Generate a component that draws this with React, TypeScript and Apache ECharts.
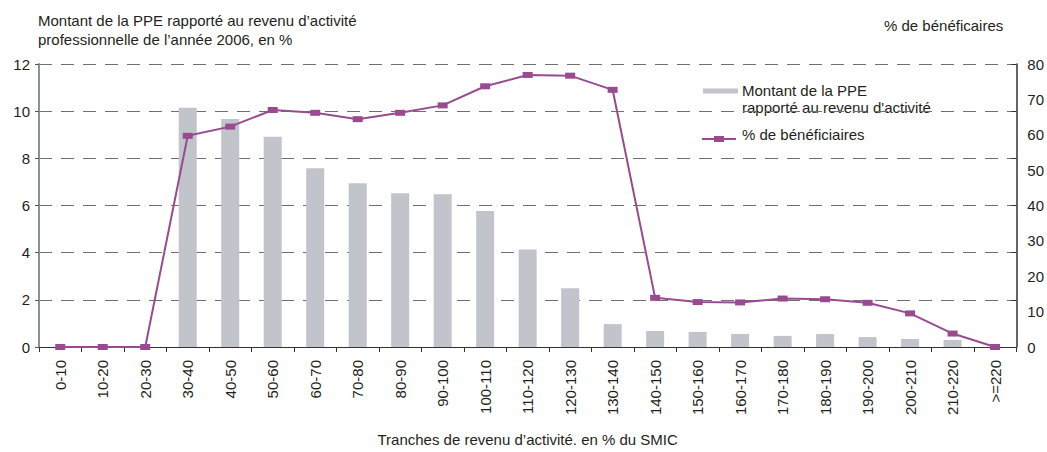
import React, { useEffect, useRef } from "react";
import * as echarts from "echarts";

const categories = [
  "0-10", "10-20", "20-30", "30-40", "40-50", "50-60", "60-70", "70-80", "80-90", "90-100",
  "100-110", "110-120", "120-130", "130-140", "140-150", "150-160", "160-170", "170-180",
  "180-190", "190-200", "200-210", "210-220", ">=220",
];

// Montant de la PPE rapporté au revenu d'activité (%), left axis
const ppeMontant = [
  0, 0, 0, 10.15, 9.67, 8.92, 7.58, 6.94, 6.52, 6.48,
  5.77, 4.13, 2.49, 0.97, 0.68, 0.64, 0.55, 0.47,
  0.55, 0.42, 0.34, 0.3, 0,
];

// % de bénéficiaires, right axis
const beneficiaires = [
  0, 0, 0, 59.7, 62.3, 67.0, 66.2, 64.4, 66.2, 68.3,
  73.7, 76.9, 76.7, 72.7, 13.9, 12.7, 12.6, 13.7,
  13.5, 12.5, 9.5, 3.8, 0,
];

const leftTicks = { min: 0, max: 12, interval: 2 };
const rightTicks = { min: 0, max: 80, interval: 10 };

const FONT = "'Liberation Sans', Arial, Helvetica, sans-serif";
const TEXT = "#231f20";
const BAR = "#c2c4cb";
const LINE = "#984b8e";

export default function App() {
  const ref = useRef<HTMLDivElement>(null);

  useEffect(() => {
    if (!ref.current) return;
    const chart = echarts.init(ref.current, undefined, { renderer: "svg" });
    chart.setOption({
      animation: false,
      backgroundColor: "#ffffff",
      textStyle: { fontFamily: FONT, color: TEXT },
      title: [
        {
          text: "Montant de la PPE rapporté au revenu d’activité\nprofessionnelle de l’année 2006, en %",
          left: 33,
          top: 6,
          textStyle: { fontSize: 15, fontWeight: "normal", color: TEXT, lineHeight: 19, fontFamily: FONT },
        },
        {
          text: "% de bénéficaires",
          left: 879,
          top: 13,
          textStyle: { fontSize: 15, fontWeight: "normal", color: TEXT, fontFamily: FONT },
        },
      ],
      grid: { left: 39, right: 24, top: 64, bottom: 103, containLabel: false },
      xAxis: {
        type: "category",
        data: categories,
        boundaryGap: true,
        name: "Tranches de revenu d’activité. en % du SMIC",
        nameLocation: "middle",
        nameGap: 85,
        nameTextStyle: { fontSize: 15, color: TEXT, fontFamily: FONT },
        axisLine: { show: true, lineStyle: { color: "#333333", width: 1 } },
        axisTick: { show: true, length: 5, lineStyle: { color: "#333333" } },
        axisLabel: { rotate: 90, interval: 0, margin: 13, fontSize: 15, color: TEXT, fontFamily: FONT },
        splitLine: { show: false },
      },
      yAxis: [
        {
          type: "value",
          position: "left",
          min: leftTicks.min,
          max: leftTicks.max,
          interval: leftTicks.interval,
          axisLine: { show: true, lineStyle: { color: "#8c929c", width: 2 } },
          axisTick: { show: true, length: 4, lineStyle: { color: "#555555" } },
          axisLabel: { margin: 9, fontSize: 15, color: TEXT, fontFamily: FONT },
          splitLine: { show: true, lineStyle: { color: "#707070", type: [13, 9], width: 1 } },
        },
        {
          type: "value",
          position: "right",
          min: rightTicks.min,
          max: rightTicks.max,
          interval: rightTicks.interval,
          axisLine: { show: false },
          axisTick: { show: false },
          axisLabel: { margin: 11, fontSize: 15, color: TEXT, fontFamily: FONT },
          splitLine: { show: false },
        },
        {
          type: "value",
          position: "right",
          min: leftTicks.min,
          max: leftTicks.max,
          interval: leftTicks.interval,
          axisLine: { show: true, lineStyle: { color: "#333333", width: 1.5 } },
          axisTick: { show: true, inside: true, length: 5, lineStyle: { color: "#333333" } },
          axisLabel: { show: false },
          splitLine: { show: false },
        },
      ],
      series: [
        {
          name: "Montant de la PPE rapporté au revenu d'activité",
          type: "bar",
          yAxisIndex: 0,
          data: ppeMontant,
          barWidth: 18,
          itemStyle: { color: BAR },
        },
        {
          name: "% de bénéficiaires",
          type: "line",
          yAxisIndex: 1,
          data: beneficiaires,
          symbol: "rect",
          symbolSize: [10, 6],
          showAllSymbol: true,
          itemStyle: { color: LINE },
          lineStyle: { color: LINE, width: 2 },
        },
      ],
      graphic: [
        { type: "rect", left: 703, top: 88.5, shape: { width: 35, height: 5 }, style: { fill: BAR } },
        {
          type: "text",
          left: 742,
          top: 82,
          style: {
            text: "Montant de la PPE\nrapporté au revenu d'activité",
            fill: TEXT,
            font: `15px ${FONT}`,
            lineHeight: 17,
          },
        },
        { type: "line", shape: { x1: 702, y1: 139, x2: 736, y2: 139 }, style: { stroke: LINE, lineWidth: 2 } },
        { type: "rect", shape: { x: 714, y: 136, width: 10, height: 6 }, style: { fill: LINE } },
        {
          type: "text",
          left: 742,
          top: 127,
          style: { text: "% de bénéficiaires", fill: TEXT, font: `15px ${FONT}` },
        },
      ],
    });
    return () => chart.dispose();
  }, []);

  return <div ref={ref} style={{ width: 1047, height: 452, position: "absolute", left: 0, top: 0 }} />;
}
